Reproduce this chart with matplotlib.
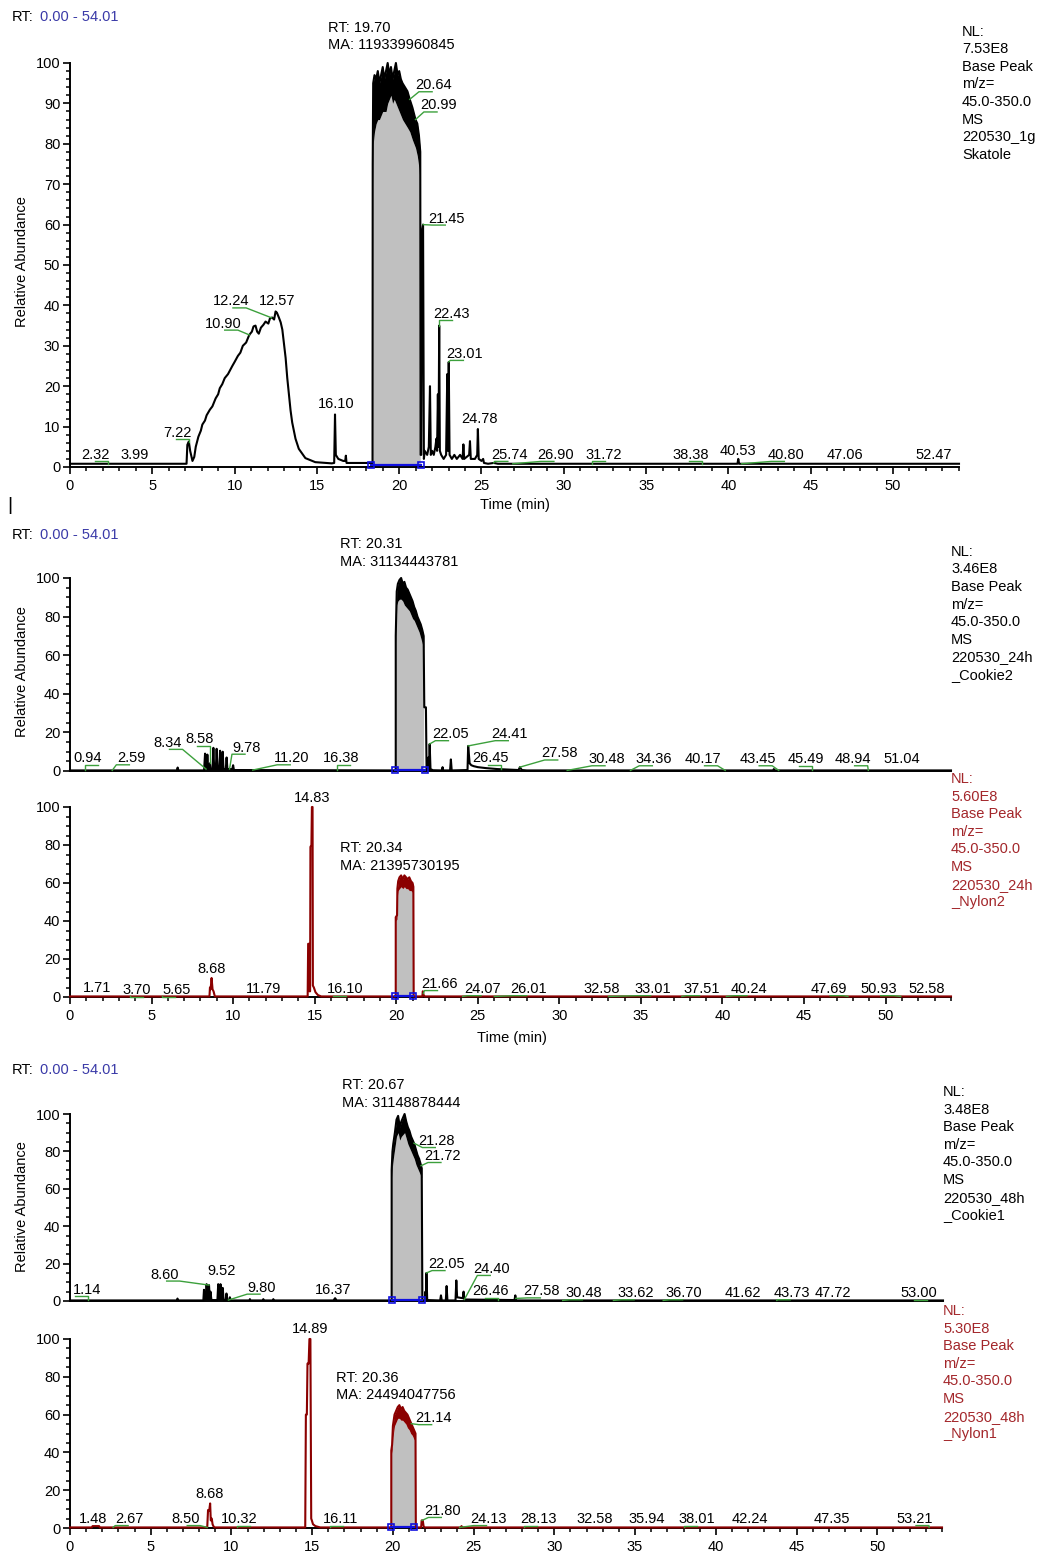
import numpy as np
import matplotlib
matplotlib.use('Agg')
from matplotlib import pyplot as plt

plt.rcParams['font.family'] = ['Liberation Sans', 'DejaVu Sans']
plt.rcParams['font.size'] = 10.5

# ---------------- panel 1 : 220530_1g Skatole ----------------
t1_a = [0.0, 7.08, 7.13, 7.22, 7.3, 7.44, 7.55, 7.64, 7.8, 7.95,
        8.04, 8.2, 8.3, 8.5, 8.65, 8.85, 9.0, 9.1, 9.25, 9.4,
        9.6, 9.86, 10.0, 10.2, 10.35, 10.5, 10.7, 10.87, 10.95, 11.05,
        11.15, 11.27, 11.37, 11.47, 11.6, 11.75, 11.88, 12.05, 12.15, 12.28,
        12.4, 12.49, 12.57, 12.69, 12.8, 12.9, 13.0, 13.1, 13.2, 13.3,
        13.4, 13.5, 13.7, 13.9, 14.3, 14.9, 15.9, 16.05, 16.1, 16.15,
        16.3, 16.6, 16.72, 16.76, 16.8, 18.38]
a1_a = [0.8, 0.8, 5.5, 6.3, 4.0, 1.5, 2.5, 5.0, 7.5, 9.0,
        10.5, 11.5, 12.8, 14.2, 15.0, 17.0, 18.0, 19.5, 20.5, 22.0,
        23.0, 25.0, 26.0, 27.5, 28.3, 30.0, 30.8, 32.5, 33.0, 33.5,
        34.8, 35.0, 33.5, 33.0, 34.5, 35.2, 36.0, 35.5, 36.8, 37.0,
        36.5, 38.5, 38.2, 37.0, 35.8, 34.0, 30.5, 27.0, 22.0, 18.0,
        14.0, 11.0, 7.0, 4.5, 2.2, 1.2, 0.9, 1.0, 13.0, 3.0,
        2.0, 1.5, 1.5, 2.8, 1.0, 1.0]
pk1_t = [18.39, 18.42, 18.5, 18.6, 18.7, 18.8, 18.9, 19.0, 19.1, 19.2,
         19.3, 19.4, 19.5, 19.6, 19.7, 19.8, 19.9, 20.0, 20.1, 20.2,
         20.35, 20.5, 20.64, 20.8, 20.99, 21.1, 21.2, 21.28]
pk1_hi = [75, 95, 97, 96, 98, 95, 97, 99, 96, 98,
          100, 97, 99, 96, 98, 100, 97, 98, 96, 95,
          94, 93, 91, 89, 86, 85, 82, 78]
pk1_lo = [70, 80, 83, 85, 86, 86, 87, 88, 88, 88,
          90, 91, 92, 90, 91, 90, 89, 88, 87, 86,
          85, 84, 83, 81, 79, 77, 74, 70]
t1_b = [21.3, 21.34, 21.38, 21.45, 21.5, 21.55, 21.7, 21.8, 21.87, 21.92,
        22.0, 22.1, 22.2, 22.26, 22.3, 22.35, 22.39, 22.43, 22.47, 22.55,
        22.7, 22.85, 22.92, 22.96, 23.01, 23.06, 23.2, 23.35, 23.5, 23.7,
        23.85, 23.9, 23.95, 24.1, 24.25, 24.3, 24.35, 24.6, 24.74, 24.78,
        24.83, 25.0, 25.1, 25.15, 25.4, 25.74, 26.0, 27.0, 28.9, 31.72,
        38.38, 40.55, 40.6, 40.65, 42.0, 44.0, 47.06, 54.01]
a1_b = [3, 3, 58, 60, 2, 4, 3, 5, 20, 3,
        4, 3, 5, 7, 4, 18, 5, 35, 4, 3,
        2, 3, 23, 4, 26, 3, 2, 3, 2, 3,
        2, 5.6, 2, 2.5, 3, 6.4, 2, 2, 3, 9.4,
        2, 1.5, 2, 1, 0.8, 1, 0.8, 0.8, 0.8, 0.8,
        0.8, 0.8, 2, 0.8, 0.8, 0.8, 0.8, 0.8]
int1 = [18.3, 21.3]
lab1 = ["2.32", "3.99", "7.22", "10.90", "12.24", "12.57", "16.10", "20.64", "20.99", "21.45",
        "22.43", "23.01", "24.78", "25.74", "26.90", "31.72", "38.38", "40.53", "40.80", "47.06", "52.47"]
rtma1 = ["RT: 19.70", "MA: 119339960845"]
nl1 = ["NL:", "7.53E8", "Base Peak", "m/z=", "45.0-350.0", "MS", "220530_1g", "Skatole"]

# ---------------- panel 2 : 220530_24h_Cookie2 ----------------
t2_a = [0.0, 6.55, 6.6, 6.65, 8.22, 8.28, 8.33, 8.38, 8.42, 8.47,
        8.55, 8.58, 8.62, 8.74, 8.79, 8.84, 8.94, 8.99, 9.04, 9.15,
        9.2, 9.25, 9.31, 9.36, 9.41, 9.55, 9.6, 9.65, 9.95, 10.0,
        10.05, 19.97]
a2_a = [0.3, 0.3, 1.8, 0.3, 0.3, 9, 1, 1, 8.5, 1,
        1, 4, 1, 1, 12, 1, 1, 11.5, 1, 1,
        10.5, 1, 1, 10, 1, 1, 7, 1, 1, 3,
        0.5, 0.3]
pk2_t = [19.97, 20.03, 20.1, 20.2, 20.3, 20.4, 20.5, 20.6, 20.7, 20.8,
         20.9, 21.0, 21.1, 21.2, 21.3, 21.4, 21.5, 21.6, 21.68]
pk2_hi = [70, 93, 97, 99, 100, 97, 98, 95, 94, 92,
          90, 88, 85, 83, 80, 78, 76, 73, 70]
pk2_lo = [66, 86, 88, 89, 89, 88, 86, 85, 84, 83,
          81, 79, 78, 76, 74, 72, 69, 66, 64]
t2_b = [21.72, 21.82, 21.86, 21.93, 21.97, 22.0, 22.05, 22.1, 22.25, 22.8,
        22.84, 22.88, 23.3, 23.35, 23.4, 24.37, 24.41, 24.5, 24.6, 24.75,
        25.0, 25.5, 26.2, 27.5, 27.58, 27.7, 28.0, 43.1, 43.15, 43.2,
        54.01]
a2_b = [33, 33, 0.5, 0.5, 7, 0.5, 14, 1, 0.4, 0.3,
        2, 0.3, 0.3, 6, 0.3, 0.5, 13, 4, 3, 2.5,
        2, 1.5, 1, 0.5, 2, 0.5, 0.3, 0.3, 1, 0.3,
        0.3]
int2 = [19.9, 21.76]
lab2 = ["0.94", "2.59", "8.34", "8.58", "9.78", "11.20", "16.38", "22.05", "24.41", "26.45",
        "27.58", "30.48", "34.36", "40.17", "43.45", "45.49", "48.94", "51.04"]
rtma2 = ["RT: 20.31", "MA: 31134443781"]
nl2 = ["NL:", "3.46E8", "Base Peak", "m/z=", "45.0-350.0", "MS", "220530_24h", "_Cookie2"]

# ---------------- panel 3 : 220530_24h_Nylon2 ----------------
t3_a = [0.0, 8.55, 8.58, 8.61, 8.64, 8.68, 8.74, 8.8, 8.88, 14.57,
        14.6, 14.66, 14.68, 14.72, 14.74, 14.8, 14.83, 14.87, 14.89, 14.95,
        15.05, 15.2, 15.4, 19.97]
a3_a = [0.3, 0.3, 5, 4, 6, 10, 4, 3, 0.3, 0.3,
        28, 28, 3, 3, 79, 80, 100, 100, 6, 5,
        2.5, 1, 0.3, 0.3]
pk3_t = [19.97, 20.05, 20.07, 20.12, 20.2, 20.3, 20.4, 20.5, 20.6, 20.7,
         20.8, 20.9, 21.0, 21.05]
pk3_hi = [42, 43, 57, 61, 63, 64, 62, 64, 63, 62, 63, 61, 60, 58]
pk3_lo = [40, 41, 53, 56, 57, 58, 57, 58, 57, 57, 56, 56, 55, 55]
t3_b = [21.07, 21.6, 21.63, 21.68, 21.75, 54.01]
a3_b = [0.3, 0.3, 3, 1, 0.3, 0.3]
int3 = [19.9, 21.05]
lab3 = ["1.71", "3.70", "5.65", "8.68", "11.79", "14.83", "16.10", "21.66", "24.07", "26.01",
        "32.58", "33.01", "37.51", "40.24", "47.69", "50.93", "52.58"]
rtma3 = ["RT: 20.34", "MA: 21395730195"]
nl3 = ["NL:", "5.60E8", "Base Peak", "m/z=", "45.0-350.0", "MS", "220530_24h", "_Nylon2"]

# ---------------- panel 4 : 220530_48h_Cookie1 ----------------
t4_a = [0.0, 6.6, 6.65, 6.7, 8.25, 8.29, 8.33, 8.41, 8.45, 8.5,
        8.55, 8.6, 8.65, 8.69, 8.75, 9.12, 9.17, 9.22, 9.27, 9.31,
        9.36, 9.4, 9.45, 9.5, 9.63, 9.68, 9.73, 9.85, 9.89, 9.95,
        11.1, 11.13, 11.16, 11.93, 11.96, 11.99, 12.55, 12.58, 12.61, 16.3,
        16.4, 16.5, 19.9]
a4_a = [0.3, 0.3, 1.3, 0.3, 0.3, 6, 1, 1, 9, 1,
        1, 8.5, 1, 5, 0.5, 0.5, 9, 1, 1, 9,
        1, 1, 7, 0.5, 0.5, 4, 0.5, 0.5, 2, 0.3,
        0.3, 1, 0.3, 0.3, 1, 0.3, 0.3, 1, 0.3, 0.3,
        1.5, 0.3, 0.3]
pk4_t = [19.9, 19.95, 20.0, 20.1, 20.2, 20.3, 20.4, 20.5, 20.6, 20.7,
         20.8, 20.9, 21.0, 21.1, 21.2, 21.3, 21.4, 21.5, 21.6, 21.7, 21.76]
pk4_hi = [70, 80, 84, 90, 97, 99, 93, 96, 98, 100,
          96, 93, 91, 88, 86, 84, 81, 78, 76, 73, 71]
pk4_lo = [66, 72, 76, 82, 88, 90, 86, 88, 89, 90,
          87, 84, 82, 80, 78, 76, 73, 71, 69, 67, 66]
t4_b = [21.8, 21.95, 21.99, 22.02, 22.05, 22.1, 22.9, 22.95, 23.0, 23.25,
        23.3, 23.35, 23.85, 23.9, 23.95, 24.3, 24.35, 24.4, 27.5, 27.55,
        27.6, 54.01]
a4_b = [0.3, 0.3, 5, 0.5, 15, 0.5, 0.3, 3, 0.3, 0.3,
        8, 0.3, 0.3, 11, 2, 1.5, 5, 0.8, 0.5, 3,
        0.3, 0.3]
int4 = [19.9, 21.8]
lab4 = ["1.14", "8.60", "9.52", "9.80", "16.37", "21.28", "21.72", "22.05", "24.40", "26.46",
        "27.58", "30.48", "33.62", "36.70", "41.62", "43.73", "47.72", "53.00"]
rtma4 = ["RT: 20.67", "MA: 31148878444"]
nl4 = ["NL:", "3.48E8", "Base Peak", "m/z=", "45.0-350.0", "MS", "220530_48h", "_Cookie1"]

# ---------------- panel 5 : 220530_48h_Nylon1 ----------------
t5_a = [0.0, 1.35, 1.4, 1.8, 1.85, 8.5, 8.55, 8.62, 8.68, 8.72,
        8.78, 8.83, 8.88, 8.95, 14.57, 14.61, 14.67, 14.71, 14.78, 14.83,
        14.89, 14.94, 14.98, 15.05, 15.2, 15.5, 19.9]
a5_a = [0.3, 0.3, 1, 1, 0.3, 0.3, 9.5, 9, 13, 4,
        5, 2, 1, 0.3, 0.3, 60, 60, 87, 87, 100,
        100, 5, 4, 2, 1, 0.3, 0.3]
pk5_t = [19.9, 19.95, 20.0, 20.1, 20.2, 20.3, 20.4, 20.5, 20.6, 20.7,
         20.8, 20.9, 21.0, 21.1, 21.2, 21.3, 21.4]
pk5_hi = [41, 44, 54, 60, 62, 64, 65, 63, 64, 62, 61, 60, 58, 56, 54, 52, 50]
pk5_lo = [39, 41, 48, 54, 56, 58, 58, 57, 57, 56, 55, 53, 52, 50, 49, 47, 46]
t5_b = [21.42, 21.75, 21.78, 21.85, 21.9, 21.95, 24.2, 24.25, 24.3, 54.01]
a5_b = [0.3, 0.3, 4, 4, 1, 0.3, 0.3, 1, 0.3, 0.3]
int5 = [19.9, 21.3]
lab5 = ["1.48", "2.67", "8.50", "8.68", "10.32", "14.89", "16.11", "21.14", "21.80", "24.13",
        "28.13", "32.58", "35.94", "38.01", "42.24", "47.35", "53.21"]
rtma5 = ["RT: 20.36", "MA: 24494047756"]
nl5 = ["NL:", "5.30E8", "Base Peak", "m/z=", "45.0-350.0", "MS", "220530_48h", "_Nylon1"]

# ---------------- label placement (x centre in min, baseline in %) ----------------
lx1 = [1.52, 3.95, 6.5, 9.3, 9.8, 12.6, 16.2, 22.1, 22.4, 22.9,
       23.2, 24.0, 24.85, 26.7, 29.5, 32.4, 37.7, 40.6, 43.5, 47.1, 52.5]
ly1 = [2, 2, 7.5, 34.5, 40, 40, 14.6, 93.5, 88.5, 60.5,
       37, 27, 11, 2, 2, 2, 2, 3, 2, 2, 2]
ld1 = [1, 0, 1, 1, 1, 0, 0, 1, 1, 1, 1, 1, 0, 1, 1, 1, 1, 0, 1, 0, 0]
lx2 = [1.07, 3.74, 6.0, 7.94, 10.83, 13.6, 16.65, 23.3, 26.97, 25.75,
       30.0, 32.9, 35.8, 38.8, 42.15, 45.1, 48.0, 51.0]
ly2 = [4.5, 4.5, 12.5, 14.5, 10, 4.5, 4.5, 17, 17, 4.5, 7, 4, 4, 4, 4, 4, 4, 4]
ld2 = [1, 1, 1, 1, 1, 1, 1, 1, 1, 1, 1, 1, 1, 1, 1, 1, 1, 0]
lx3 = [1.64, 4.09, 6.54, 8.65, 11.84, 14.87, 16.86, 22.63, 25.3, 28.1,
       32.6, 35.7, 38.7, 41.6, 46.5, 49.6, 52.5]
ly3 = [2.5, 1.5, 1.5, 12.6, 2, 102.8, 2, 4.7, 2, 2, 2, 2, 2, 2, 2, 2, 2]
ld3 = [0, 1, 1, 0, 0, 0, 1, 1, 1, 1, 0, 1, 1, 1, 1, 1, 0]
lx4 = [1.03, 5.88, 9.39, 11.86, 16.3, 22.7, 23.05, 23.3, 26.1, 26.0,
       29.2, 31.8, 35.0, 38.0, 41.65, 44.66, 47.2, 52.5]
ly4 = [4, 12, 13.9, 5, 4, 83.4, 75.4, 17.6, 15, 3, 3, 2, 2, 2, 2, 2, 2, 2]
ld4 = [1, 1, 0, 1, 0, 1, 1, 1, 1, 1, 1, 1, 1, 1, 0, 1, 0, 1]
lx5 = [1.44, 3.7, 7.16, 8.64, 10.5, 14.87, 16.77, 22.5, 23.1, 25.9,
       29.0, 32.5, 35.7, 38.8, 42.1, 47.2, 52.3]
ly5 = [2.6, 2.6, 2.6, 15.9, 2.6, 103, 2.6, 56, 6.9, 2.6, 2.6, 2.6, 2.6, 2.6, 2.6, 2.6, 2.6]
ld5 = [0, 1, 1, 0, 1, 0, 1, 1, 1, 1, 1, 0, 0, 1, 0, 0, 1]

BLACK = '#000000'
RED = '#8b0000'
RED_TXT = '#a3262a'
GREEN = '#3ca03c'
BLUE = '#1010e0'
GREY = '#c0c0c0'

W, H = 1046, 1553
fig = plt.figure(figsize=(W / 100, H / 100), dpi=100)


def box(l, top, r, bottom):
    return [l / W, 1 - bottom / H, (r - l) / W, (bottom - top) / H]


def ftext(x, y, s, **kw):
    fig.text(x / W, 1 - y / H, s, **kw)


def panel(pos, ta, aa, pk_t, pk_hi, pk_lo, tb, ab, integ, color,
          labs, lx, ly, ld, rtma, rt_x, rt_y, ymajor, yminor, xlabels):
    ax = fig.add_axes(pos)
    t = np.concatenate([ta, pk_t, tb])
    a = np.concatenate([aa, pk_hi, ab])
    ax.fill_between(pk_t, 0, pk_lo, color=GREY, lw=0, zorder=1)
    ax.fill_between(pk_t, pk_lo, pk_hi, color=color, lw=0, zorder=2)
    ax.plot(t, a, color=color, lw=1.5, zorder=3, clip_on=False)
    ax.plot(integ, [0.4, 0.4], color=BLUE, lw=1.6, zorder=4,
            marker='s', ms=4, mfc='none', mew=1.2, clip_on=False)

    hpx = pos[3] * H
    gap = 2.5 * 100 / hpx
    for s, x, y, l in zip(labs, lx, ly, ld):
        ax.text(x, y, s, ha='center', va='baseline', fontsize=10.5, zorder=6)
        if l:
            rt = float(s)
            h = np.interp(rt, t, a)
            xa = min(max(rt, x - 0.9), x + 0.9)
            d = 0.8 if x >= xa else -0.8
            ax.plot([rt, xa, xa + d], [h, y - gap, y - gap], color=GREEN,
                    lw=1.0, zorder=5, clip_on=False)
    ax.text(rt_x, rt_y, rtma[0] + '\n' + rtma[1], ha='left', va='top',
            fontsize=10.5, linespacing=1.3)

    ax.set_xlim(0, 54.01)
    ax.set_ylim(0, 100)
    for sp in ['top', 'right']:
        ax.spines[sp].set_visible(False)
    for sp in ['left', 'bottom']:
        ax.spines[sp].set_linewidth(1.4)
    ax.set_yticks(np.arange(0, 101, ymajor))
    ax.set_yticks(np.arange(0, 101, yminor), minor=True)
    ax.set_xticks(np.arange(0, 51, 5))
    ax.set_xticks(np.arange(0, 55, 1), minor=True)
    ax.tick_params(axis='both', which='major', direction='out', length=5,
                   width=1.2, labelsize=10.5)
    ax.tick_params(axis='both', which='minor', direction='out', length=3, width=1.1)
    ax.tick_params(axis='y', pad=2)
    ax.tick_params(axis='x', pad=3.5)
    if not xlabels:
        ax.tick_params(axis='x', which='both', length=0, labelbottom=False)
    ax.patch.set_alpha(0)
    return ax


ax1 = panel(box(70, 63, 959, 467), t1_a, a1_a, pk1_t, pk1_hi, pk1_lo, t1_b, a1_b, int1,
            BLACK, lab1, lx1, ly1, ld1, rtma1, 15.7, 110.5, 10, 2, True)
ax2 = panel(box(70, 578, 951, 771), t2_a, a2_a, pk2_t, pk2_hi, pk2_lo, t2_b, a2_b, int2,
            BLACK, lab2, lx2, ly2, ld2, rtma2, 16.55, 121, 20, 5, False)
ax3 = panel(box(70, 807, 951, 997), t3_a, a3_a, pk3_t, pk3_hi, pk3_lo, t3_b, a3_b, int3,
            RED, lab3, lx3, ly3, ld3, rtma3, 16.55, 82, 20, 5, True)
ax4 = panel(box(70, 1114, 943, 1301), t4_a, a4_a, pk4_t, pk4_hi, pk4_lo, t4_b, a4_b, int4,
            BLACK, lab4, lx4, ly4, ld4, rtma4, 16.8, 119, 20, 5, False)
ax5 = panel(box(70, 1339, 942, 1528), t5_a, a5_a, pk5_t, pk5_hi, pk5_lo, t5_b, a5_b, int5,
            RED, lab5, lx5, ly5, ld5, rtma5, 16.46, 83, 20, 5, True)

# right-hand trace descriptions
for lines, x0, y0, col in [(nl1, 962, 31.7, BLACK), (nl2, 951, 551.7, BLACK),
                           (nl3, 951, 779, RED_TXT), (nl4, 943, 1092, BLACK),
                           (nl5, 943, 1311, RED_TXT)]:
    for i, s in enumerate(lines):
        ftext(x0, y0 + i * 17.6, s, ha='left', va='center', fontsize=10.5, color=col)

# range headers
for y in [17, 535, 1070]:
    ftext(12, y, 'RT:', ha='left', va='center', fontsize=10.5)
    ftext(40, y, '0.00 - 54.01', ha='left', va='center', fontsize=10.5, color='#3a3aa8')

# axis titles
for y in [262, 672, 1207]:
    ftext(22, y, 'Relative Abundance', rotation=90, ha='center', va='center', fontsize=10.5)
ftext(515, 505, 'Time (min)', ha='center', va='center', fontsize=10.5)
ftext(512, 1038, 'Time (min)', ha='center', va='center', fontsize=10.5)
ftext(10, 505, '|', ha='center', va='center', fontsize=14)

plt.savefig('out.png', dpi=100)
